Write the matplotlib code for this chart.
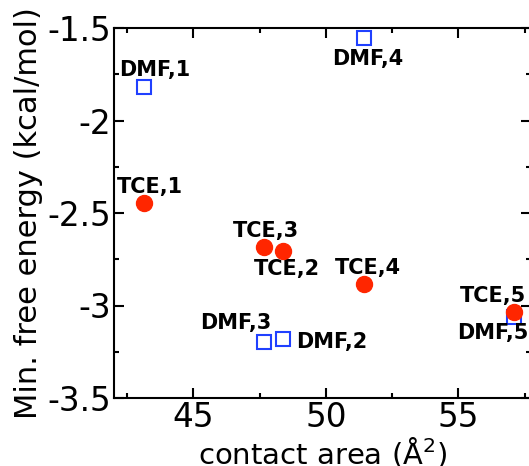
import matplotlib
matplotlib.use('Agg')
import matplotlib.pyplot as plt
from matplotlib.ticker import MultipleLocator

# contact area (A^2) and minimum free energy (kcal/mol)
tce_area = [43.15, 48.38, 47.66, 51.43, 57.08]
tce_energy = [-2.446, -2.705, -2.684, -2.884, -3.035]
tce_names = ['TCE,1', 'TCE,2', 'TCE,3', 'TCE,4', 'TCE,5']

dmf_area = [43.15, 48.38, 47.66, 51.43, 57.08]
dmf_energy = [-1.82, -3.18, -3.197, -1.554, -3.06]
dmf_names = ['DMF,1', 'DMF,2', 'DMF,3', 'DMF,4', 'DMF,5']

# label offsets in pixels (left edge, baseline) relative to the marker
tce_offsets = [(-28, 10), (-29, -24), (-31, 10), (-29, 10), (-54, 10)]
dmf_offsets = [(-25, 11), (13, -9), (-64, 13), (-32, -27), (-56, -22)]

plt.rcParams['axes.unicode_minus'] = False
plt.rcParams['font.family'] = 'DejaVu Sans'

W, H = 529, 466
fig = plt.figure(figsize=(W / 100, H / 100), dpi=100)
ax = fig.add_axes([114 / W, (H - 398) / H, (531 - 114) / W, (398 - 28) / H])

ax.plot(dmf_area, dmf_energy, 's', ms=10.5, mfc='white', mec='#2040ff', mew=1.5, zorder=3)
ax.plot(tce_area, tce_energy, 'o', ms=11.5, color='#ff2600', mec='#ff2600', zorder=4)

for x, y, t, off in zip(tce_area, tce_energy, tce_names, tce_offsets):
    ax.annotate(t, (x, y), xytext=off, textcoords='offset pixels', ha='left', va='baseline',
                fontsize=15, fontweight='bold', annotation_clip=False)
for x, y, t, off in zip(dmf_area, dmf_energy, dmf_names, dmf_offsets):
    ax.annotate(t, (x, y), xytext=off, textcoords='offset pixels', ha='left', va='baseline',
                fontsize=15, fontweight='bold', annotation_clip=False)

ax.set_xlim(42, 57.74)
ax.set_ylim(-3.5, -1.5)
ax.xaxis.set_major_locator(MultipleLocator(5))
ax.xaxis.set_minor_locator(MultipleLocator(2.5))
ax.yaxis.set_minor_locator(MultipleLocator(0.25))
ax.set_yticks([-3.5, -3, -2.5, -2, -1.5])
ax.set_yticklabels(['-3.5', '-3', '-2.5', '-2', '-1.5'])

ax.tick_params(which='both', direction='in', top=True, right=True, width=1.5, labelsize=23.5)
ax.tick_params(which='major', length=7, pad=2)
ax.tick_params(which='minor', length=3.5)
for s in ax.spines.values():
    s.set_linewidth(1.5)

ax.set_xlabel('contact area (Å$^2$)', fontsize=21, labelpad=1)
ax.set_ylabel('Min. free energy (kcal/mol)', fontsize=22, labelpad=3)

fig.savefig('out.png', dpi=100)
